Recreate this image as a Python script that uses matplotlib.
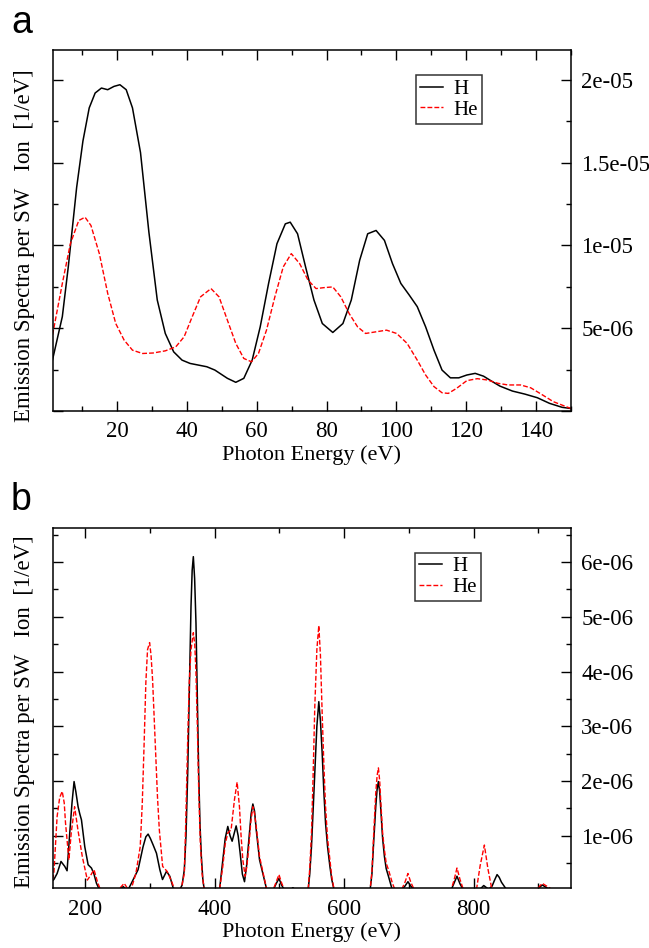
import matplotlib
matplotlib.use("Agg")
import matplotlib.pyplot as plt
from matplotlib.ticker import MultipleLocator, FuncFormatter

plt.rcParams['font.family'] = ['Liberation Serif', 'DejaVu Serif']

# Panel a: 0-150 eV (values in 1e-6 / eV)
e_top_h = [1.5, 4.3, 6.0, 8.4, 10.2, 12.0, 13.7, 15.5, 17.3, 19.1, 20.8, 22.6, 24.4,
           26.7, 29.1, 31.5, 33.8, 36.2, 38.6, 40.9, 45.7, 48.0, 51.6, 54.0, 56.3,
           58.7, 61.0, 63.4, 65.8, 68.2, 69.6, 71.7, 74.0, 76.4, 78.8, 81.8, 84.7,
           87.1, 89.5, 91.8, 94.2, 96.6, 98.9, 101.3, 103.7, 106.0, 108.4, 110.8,
           113.1, 115.5, 117.9, 120.2, 122.6, 125.0, 127.3, 129.7, 133.3, 136.8,
           140.4, 143.9, 147.5, 150.0]
s_top_h = [3.1, 5.7, 8.7, 13.5, 16.3, 18.3, 19.2, 19.5, 19.4, 19.6, 19.7, 19.4, 18.3,
           15.6, 10.8, 6.7, 4.68, 3.57, 3.07, 2.87, 2.67, 2.47, 1.97, 1.73, 1.97,
           3.07, 5.08, 7.7, 10.1, 11.3, 11.4, 10.7, 8.7, 6.7, 5.28, 4.74, 5.28,
           6.7, 9.1, 10.7, 10.9, 10.3, 8.9, 7.7, 7.0, 6.3, 5.08, 3.67,
           2.47, 2.0, 2.0, 2.17, 2.27, 2.1, 1.8, 1.5, 1.2, 1.02,
           0.8, 0.46, 0.22, 0.15]

e_top_he = [1.5, 4.3, 6.6, 9.0, 10.8, 12.5, 14.9, 17.3, 19.6, 22.0, 24.4, 27.3, 30.3,
            33.8, 36.8, 39.2, 41.5, 43.9, 46.9, 49.2, 51.6, 54.0, 56.3, 58.5, 60.5,
            62.8, 65.2, 67.6, 69.9, 72.3, 74.7, 77.0, 79.4, 81.8, 84.1, 86.5, 88.9,
            91.2, 94.2, 97.2, 100.1, 103.1, 106.0, 108.4, 110.8, 113.1, 114.9, 117.3,
            120.2, 123.2, 126.1, 129.1, 132.0, 135.6, 138.5, 141.5, 145.0, 150.0]
s_top_he = [4.6, 7.7, 10.1, 11.5, 11.7, 11.2, 9.5, 7.1, 5.28, 4.28, 3.67, 3.47, 3.5,
            3.63, 3.87, 4.48, 5.68, 6.89, 7.39, 6.89, 5.48, 4.08, 3.17, 2.97, 3.47,
            4.88, 6.89, 8.7, 9.5, 8.9, 7.9, 7.39, 7.45, 7.49, 6.89, 5.88, 5.08,
            4.68, 4.78, 4.88, 4.68, 4.08, 3.07, 2.17, 1.47, 1.1, 1.06, 1.37,
            1.83, 1.95, 1.87, 1.67, 1.57, 1.57, 1.4, 1.02, 0.56, 0.15]

# Panel b: 150-950 eV (values in 1e-6 / eV)
e_bot_h = [150, 152, 157, 163, 168.8, 172.4, 176.5, 180, 183.2, 186, 189.4, 192, 194.6,
           199.7, 204.9, 210, 213.7, 217.8, 223, 252, 259, 266, 271.6, 282, 289.7,
           294, 297.5, 301, 305.3, 310.4, 315.6, 319.7, 325.9, 331, 337.3, 345.7,
           350, 353.4, 356, 358.6, 361, 363.7, 365.5, 367.3, 369.3, 371.4, 373.5,
           375.6, 377.6, 379.7, 382, 384.3, 407.6, 412.8, 416.5, 420.5, 424, 427.2,
           430.5, 433.4, 436.5, 439.6, 443, 446.3, 449.5, 453, 456.5, 459.2, 461.8,
           464.4, 469.5, 475.7, 480.9, 490.2, 495, 499.5, 503.5, 508.3, 516, 521, 526,
           544.5, 547, 549.7, 552, 554.8, 558, 561, 563.5, 566.2, 568.8, 571.4,
           574.5, 578.1, 581, 584.8, 640.1, 643, 645.3, 648.9, 651, 653, 655,
           657.1, 659.5, 662.3, 665, 668.5, 674.7, 688.2, 694, 698.6, 703, 708.9,
           765, 770, 774.3, 779, 784.6, 808, 815.6, 823.3, 828.5, 832, 836.2, 839.5,
           843, 851.7, 898, 902, 906, 914, 921, 950]
s_bot_h = [0.18, 0.2, 0.31, 0.53, 0.44, 0.36, 1.05, 1.6, 1.99, 1.8, 1.53, 1.4, 1.29,
           0.80, 0.47, 0.41, 0.31, 0.13, 0, 0, 0.07, 0, 0.13, 0.38, 0.80,
           0.98, 1.03, 0.95, 0.83, 0.68, 0.38, 0.2, 0.35, 0.26, 0, 0,
           0.1, 0.38, 1.0, 2.14, 3.6, 5.19, 5.85, 6.10, 5.7, 4.88, 3.5,
           2.14, 1.2, 0.62, 0.2, 0, 0, 0.56, 0.95, 1.17, 1.0, 0.90,
           1.05, 1.18, 1.0, 0.68, 0.3, 0.16, 0.45, 0.93, 1.4, 1.58, 1.45,
           1.11, 0.56, 0.26, 0, 0, 0.12, 0.22, 0.1, 0, 0, 0.05, 0,
           0, 0.3, 0.80, 1.4, 2.14, 3.0, 3.45, 3.1, 2.51, 1.8, 1.23,
           0.8, 0.44, 0.2, 0, 0, 0.3, 0.80, 1.53, 1.85, 1.99, 1.8,
           1.41, 0.95, 0.62, 0.4, 0.26, 0, 0, 0.08, 0.16, 0.08, 0,
           0, 0.14, 0.26, 0.12, 0, 0, 0.09, 0.02, 0.08, 0.18, 0.29, 0.24,
           0.15, 0, 0, 0.06, 0.10, 0.04, 0, 0]

e_bot_he = [150, 152, 157, 161, 164.9, 168, 170, 175.2, 178.8, 184, 189.1, 195.9, 203.7,
            208.9, 214, 219.2, 224.3, 250, 255.3, 260.5, 265, 268.2, 272, 278.6, 285.3,
            288.5, 291.5, 294, 296.6, 299.8, 302, 304.4, 307, 309.6, 312, 314.8, 319.9,
            326.7, 332.9, 339.1, 348, 353.4, 355.5, 358.6, 361, 363.7, 367.3, 369.5,
            371.4, 373.5, 375.6, 378, 380.8, 384.3, 407.6, 412.8, 416.5, 420.5, 425.6,
            430.8, 434.9, 438.5, 441, 443.7, 447.3, 450, 453, 456, 459.2, 461.8, 464.4,
            469.5, 475.7, 480.9, 490.2, 495, 499.5, 503.5, 508.3, 544.5, 547, 549.7,
            552, 554.8, 558, 561, 563.5, 566.2, 568.8, 571.4, 574.5, 578.1, 581, 584.8,
            640.1, 643, 645.3, 648.9, 651, 653, 655, 657.1, 659.5, 662.3, 665, 668.5,
            674.7, 679, 688.2, 694, 698.6, 703, 708.9, 765, 770, 774.3, 779, 784.6,
            804.2, 810, 816.6, 822, 828.5, 898, 902, 906, 914, 921, 930, 950]
s_bot_he = [0.2, 0.31, 1.35, 1.7, 1.81, 1.6, 1.23, 0.56, 1.05, 1.53, 1.11, 0.62, 0.19,
            0.28, 0.38, 0.16, 0, 0, 0.06, 0.13, 0.05, 0, 0.05, 0.31, 0.80,
            1.6, 2.75, 3.8, 4.4, 4.53, 4.3, 3.85, 3.1, 2.39, 1.7, 1.11, 0.44,
            0.35, 0.19, 0, 0, 0.31, 1.2, 2.75, 3.8, 4.40, 4.71, 4.5,
            3.97, 3.0, 1.84, 0.9, 0.31, 0, 0, 0.44, 0.85, 1.05, 1.11,
            1.66, 1.98, 1.53, 1.0, 0.56, 0.26, 0.45, 0.80, 1.25, 1.53, 1.4, 1.17,
            0.62, 0.28, 0, 0, 0.15, 0.29, 0.14, 0, 0, 0.4, 1.05,
            2.0, 3.36, 4.4, 4.84, 4.3, 3.23, 2.3, 1.53, 0.95, 0.56, 0.25, 0,
            0, 0.35, 0.93, 1.78, 2.1, 2.24, 2.0, 1.53, 1.05, 0.74, 0.5, 0.38,
            0.13, 0, 0, 0.15, 0.31, 0.15, 0, 0, 0.2, 0.41, 0.2, 0,
            0, 0.45, 0.83, 0.4, 0, 0, 0.08, 0.13, 0.07, 0.02, 0, 0]

ylabel = "Emission Spectra per SW   Ion  [1/eV]"


def fmt(v, pos):
    if abs(v) < 1e-12:
        return ""
    return "%g" % v


def style_axes(ax, xmaj, xmin, ymaj, ymin):
    ax.xaxis.set_major_locator(MultipleLocator(xmaj))
    ax.xaxis.set_minor_locator(MultipleLocator(xmin))
    ax.yaxis.set_major_locator(MultipleLocator(ymaj))
    ax.yaxis.set_minor_locator(MultipleLocator(ymin))
    ax.yaxis.set_major_formatter(FuncFormatter(fmt))
    ax.tick_params(which='both', direction='in', top=True, bottom=True,
                   left=True, right=True, labelleft=False, labelright=True,
                   labelsize=16.5, width=1.0, pad=7.5)
    ax.tick_params(which='major', length=7)
    ax.tick_params(which='minor', length=3.5)
    for sp in ax.spines.values():
        sp.set_linewidth(1.1)
    ax.set_xlabel("Photon Energy (eV)", fontsize=16, labelpad=2)
    ax.set_ylabel(ylabel, fontsize=16.5)


fig = plt.figure(figsize=(6.49, 9.48), dpi=100)

# panel a
ax1 = fig.add_axes([0.081, 0.5665, 0.7985, 0.3808])
ax1.plot(e_top_h, [v * 1e-6 for v in s_top_h], color='black', lw=1.1, label='H')
ax1.plot(e_top_he, [v * 1e-6 for v in s_top_he], color='red', lw=1.0,
         dashes=(3.5, 1.5), label='He')
ax1.set_xlim(1.5, 150)
ax1.set_ylim(0, 2.18e-5)
style_axes(ax1, 20, 10, 5e-6, 2.5e-6)
ax1.yaxis.set_label_coords(-0.034, 0.457)
leg1 = ax1.legend(loc='upper left', bbox_to_anchor=(0.701, 0.93), fontsize=15,
                  frameon=True, fancybox=False, edgecolor='black',
                  handlelength=1.1, handletextpad=0.5, labelspacing=0.05,
                  borderpad=0.2, borderaxespad=0)
leg1.get_frame().set_linewidth(1.1)

# panel b
ax2 = fig.add_axes([0.081, 0.063, 0.7985, 0.3804])
ax2.plot(e_bot_h, [v * 1e-6 for v in s_bot_h], color='black', lw=1.1, label='H')
ax2.plot(e_bot_he, [v * 1e-6 for v in s_bot_he], color='red', lw=1.0,
         dashes=(3.5, 1.5), label='He')
ax2.set_xlim(150, 950)
ax2.set_ylim(4e-8, 6.63e-6)
style_axes(ax2, 200, 100, 1e-6, 5e-7)
ax2.yaxis.set_label_coords(-0.034, 0.49)
leg2 = ax2.legend(loc='upper left', bbox_to_anchor=(0.6995, 0.931), fontsize=15,
                  frameon=True, fancybox=False, edgecolor='black',
                  handlelength=1.1, handletextpad=0.5, labelspacing=0.05,
                  borderpad=0.2, borderaxespad=0)
leg2.get_frame().set_linewidth(1.1)

fig.text(0.017, 1 - 33 / 948, "a", fontsize=27, family='Liberation Sans', va='baseline')
fig.text(0.016, 1 - 510 / 948, "b", fontsize=27, family='Liberation Sans', va='baseline')

fig.savefig("out.png", dpi=100)
